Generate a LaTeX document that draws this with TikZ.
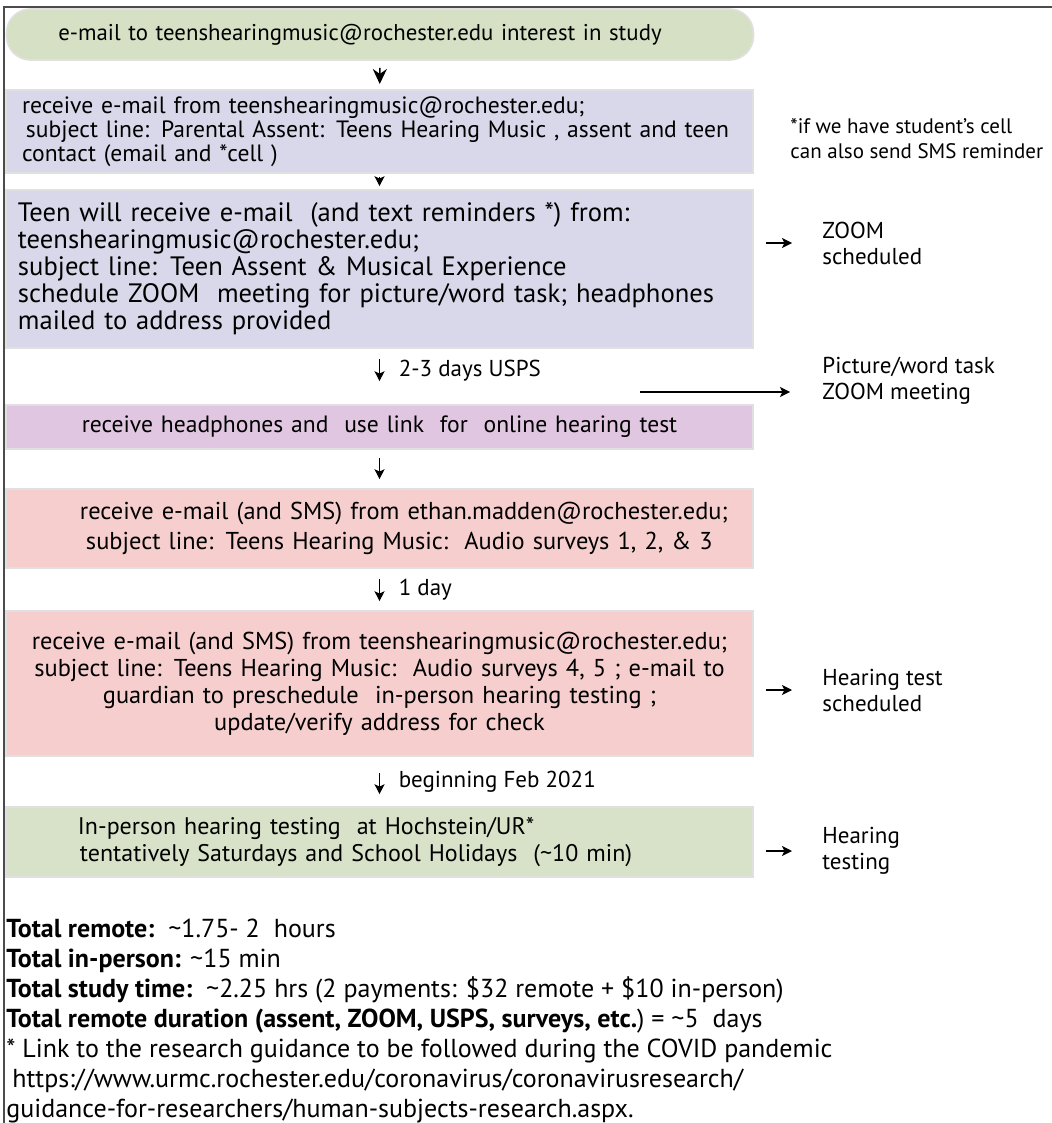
\documentclass[tikz,border=0pt]{standalone}
\usepackage{fontspec}
\setmainfont{PT Sans}
\usetikzlibrary{arrows.meta}
\definecolor{sage}{RGB}{214,224,196}
\definecolor{lav}{RGB}{216,216,234}
\definecolor{mauve}{RGB}{224,198,224}
\definecolor{blush}{RGB}{246,206,206}
\definecolor{moss}{RGB}{215,226,200}
\tikzset{
  box/.style={rectangle, draw=black!12, line width=0.8pt, minimum width=373.5pt, inner xsep=6pt, text width=361.5pt},
  flow/.style={-{Stealth[length=5pt,width=5pt,inset=1.2pt]}, line width=0.6pt, shorten <=4pt, shorten >=4pt},
  side/.style={anchor=west, align=left, inner sep=0pt, font=\fontsize{11.5}{13}\selectfont},
  steplabel/.style={midway, right=6pt, font=\fontsize{11.5}{13}\selectfont},
}
\begin{document}
\begin{tikzpicture}[x=0.5pt, y=-0.5pt]
  \useasboundingbox (0,0) rectangle (1052,1123);
  \draw[line width=1pt, black!70] (4,1123) -- (4,7) -- (1052,7);

  \node[box, fill=sage, rounded corners=12pt, minimum width=372pt, minimum height=25.5pt, align=center, font=\fontsize{11.4}{12.5}\selectfont] (mail) at (380,34.5) {\hspace*{-20pt}e-mail to teenshearingmusic@rochester.edu interest in study};
  \node[box, fill=lav, minimum height=38.5pt, align=left, font=\fontsize{11.8}{12}\selectfont] (parent) at (379.5,131.5) {\hspace*{2pt}receive e-mail from teenshearingmusic@rochester.edu;\\\hspace*{4pt}subject line: Parental Assent: Teens Hearing Music , assent and teen\\\hspace*{2pt}contact (email and *cell )};
  \node[box, fill=lav, minimum height=79pt, align=left, font=\fontsize{13.3}{13.5}\selectfont] (teen) at (379.5,269) {Teen will receive e-mail\ \ (and text reminders *) from:\\teenshearingmusic@rochester.edu;\\subject line: Teen Assent \& Musical Experience\\schedule ZOOM\ \ meeting for picture/word task; headphones\\mailed to address provided};
  \node[box, fill=mauve, minimum height=22pt, align=center, font=\fontsize{11.8}{12.5}\selectfont] (kit) at (379.5,427) {receive headphones and\ \ use link\ \ for\ \ online hearing test};
  \node[box, fill=blush, minimum height=39.5pt, align=left, font=\fontsize{12.2}{15}\selectfont] (audioA) at (379.5,528.5) {\hspace*{31pt}receive e-mail (and SMS) from ethan.madden@rochester.edu;\\\hspace*{34pt}subject line: Teens Hearing Music:\ \ Audio surveys 1, 2, \& 3};
  \node[box, fill=blush, minimum height=72.5pt, align=center, font=\fontsize{12.2}{13.5}\selectfont] (audioB) at (379.5,683.5) {receive e-mail (and SMS) from teenshearingmusic@rochester.edu;\\subject line: Teens Hearing Music:\ \ Audio surveys 4, 5 ; e-mail to\\guardian to preschedule\ \ in-person hearing testing ;\\update/verify address for check};
  \node[box, fill=moss, minimum height=35pt, align=left, font=\fontsize{12}{13.5}\selectfont] (inperson) at (379.5,842) {\hspace*{30pt}In-person hearing testing\ \ at Hochstein/UR*\\\hspace*{31pt}tentatively Saturdays and School Holidays\ \ (\textasciitilde10 min)};

  % steps
  \draw[flow, -{Stealth[length=7.5pt,width=7pt]}, line width=0.8pt, shorten <=3.5pt, shorten >=2.5pt] (mail) -- (parent);
  \draw[flow, shorten <=1.5pt, shorten >=1.5pt] (parent) -- (teen);
  \draw[flow, shorten <=5pt, shorten >=11.5pt] (teen) -- (kit) node[steplabel, pos=0.4] (usps) {2-3 days USPS};
  \draw[flow, shorten >=4.5pt] (kit) -- (audioA);
  \draw[flow, shorten <=5pt, shorten >=4.5pt] (audioA) -- (audioB) node[steplabel] (oneday) {1 day};
  \draw[flow, shorten <=8pt, shorten >=6pt] (audioB) -- (inperson) node[steplabel] (feb) {beginning Feb 2021};

  % notes on the right
  \node[side, font=\fontsize{10.5}{12.5}\selectfont] (cellnote) at (790,139) {*if we have student's cell\\can also send SMS reminder};
  \node[side] (zoomnote) at (822,243) {ZOOM\\scheduled};
  \node[side] (meetnote) at (822,381) {Picture/word task\\ZOOM meeting};
  \node[side] (testnote) at (822,690) {Hearing test\\scheduled};
  \node[side] (hearnote) at (822,851) {Hearing\\testing};
  \coordinate (mailout) at (640,392);

  \draw[flow, shorten <=6pt, shorten >=15pt] (teen.east |- zoomnote) -- (zoomnote);
  \draw[flow, shorten <=0pt, shorten >=16pt] (mailout) -- (mailout -| meetnote.west);
  \draw[flow, shorten <=6pt, shorten >=15pt] (audioB.east |- testnote) -- (testnote);
  \draw[flow, shorten <=6pt, shorten >=15pt] (inperson.east |- hearnote) -- (hearnote);

  % totals
  \node[anchor=north west, align=left, inner sep=0pt, font=\fontsize{13}{15}\selectfont] (totals) at (6,919) {\textbf{Total remote:}\ \ \textasciitilde1.75- 2\ \ hours\\
    \textbf{Total in-person:} \textasciitilde15 min\\
    \textbf{Total study time:}\ \ \textasciitilde2.25 hrs (2 payments: \$32 remote + \$10 in-person)\\
    \textbf{Total remote duration (assent, ZOOM, USPS, surveys, etc.})\ = \textasciitilde5\ \ days\\
    * Link to the research guidance to be followed during the COVID pandemic\\
    \hspace*{3pt}https://www.urmc.rochester.edu/coronavirus/coronavirusresearch/\\
    guidance-for-researchers/human-subjects-research.aspx.};
\end{tikzpicture}
\end{document}
